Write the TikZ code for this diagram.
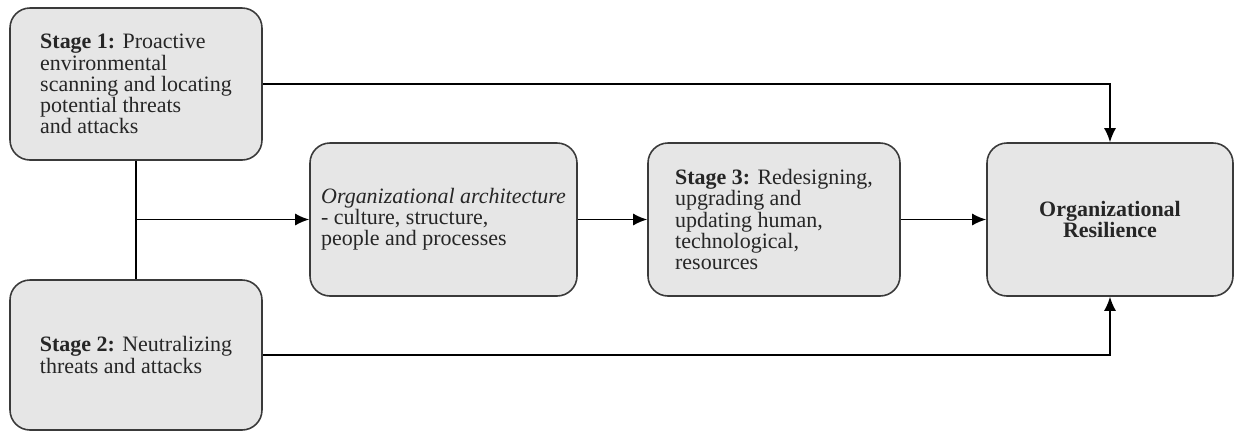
\documentclass[tikz,border=0pt]{standalone}
\usepackage{fontspec}
\setmainfont{Liberation Serif}
\usetikzlibrary{positioning,arrows.meta,calc}
\definecolor{boxfill}{HTML}{E6E6E6}
\definecolor{boxline}{HTML}{3A3A3A}
\definecolor{boxtext}{HTML}{262626}
\tikzset{
    block/.style = {
        draw=boxline,
        fill=boxfill,
        text=boxtext,
        shape=rectangle,
        rounded corners=0.4cm,
        minimum width=5.04cm,
        minimum height=3.04cm,
        line width=0.9pt,
        align=left,
        font=\fontsize{12.5}{12}\selectfont
    },
    link/.style = {
        draw,
        line width=0.9pt
    },
    >={Latex[length=0.28cm,width=0.24cm]},
}
\begin{document}
\begin{tikzpicture}
            \useasboundingbox (0,0) rectangle (24.68,-8.62);
            \node[block] (stage1) at (2.72,-1.68) {\textbf{Stage 1:} Proactive\\environmental\\scanning and locating\\potential threats\\and attacks};
            \node[block, minimum height=3cm] (stage2) at (2.72,-7.10) {\textbf{Stage 2:} Neutralizing\\threats and attacks};
            \node[block, minimum width=5.34cm, minimum height=3.06cm] (arch) at (8.87,-4.39) {\textit{Organizational architecture}\\- culture, structure,\\people and processes};
            \node[block, minimum height=3.06cm] (stage3) at (15.48,-4.39) {\textbf{Stage 3:} Redesigning,\\upgrading and\\updating human,\\technological,\\resources};
            \node[block, minimum width=4.92cm, minimum height=3.06cm, align=center] (resil) at (22.2,-4.39) {\textbf{Organizational}\\\textbf{Resilience}};
            \coordinate (join) at (stage1.south |- arch.west);

            \path[link] (stage1) -- (stage2);
            \path[link, ->] (join) -- (arch);
            \path[link, ->] (arch) -- (stage3);
            \path[link, ->] (stage3) -- (resil);
            \path[link, ->] (stage1) -| (resil);
            \path[link, ->] (stage2) -| (resil);
        \end{tikzpicture}
\end{document}
